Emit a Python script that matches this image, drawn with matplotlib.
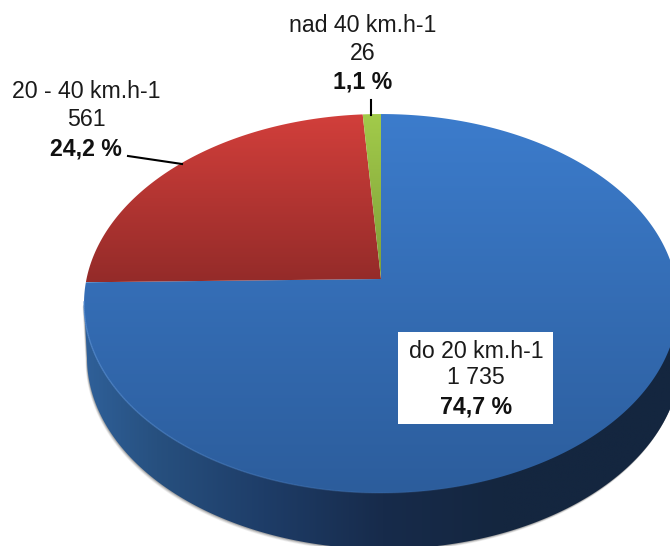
import numpy as np
import matplotlib
matplotlib.use("Agg")
import matplotlib.pyplot as plt
from matplotlib.colors import LinearSegmentedColormap as LSC
from matplotlib.collections import LineCollection
from matplotlib.patches import Polygon

categories = ["do 20 km.h-1", "20 - 40 km.h-1", "nad 40 km.h-1"]
counts = [1735, 561, 26]
count_labels = ["1 735", "561", "26"]
pct_labels = ["74,7 %", "24,2 %", "1,1 %"]

top_cols = [("#3C7CCC", "#2C5D9C"), ("#D23F3B", "#942B29"), ("#A2CB4A", "#7E9E39")]
side_stops = [(0.0, "#2F6099"), (0.12, "#27507F"), (0.3, "#1E3D68"), (0.5, "#172B4B"), (0.7, "#14263F"), (1.0, "#14263F")]

plt.rcParams["font.family"] = ["Liberation Sans", "DejaVu Sans"]
fig = plt.figure(figsize=(6.7, 5.46), dpi=100)
ax = fig.add_axes([0, 0, 1, 1])

CX, CY = 381.0, 279.0
A, B, K = 294.5, 186.3, 0.1293


def project(theta, dx=0.0, dy=0.0, sx=1.0, sy=1.0):
    """clockwise angle from 12 o'clock on the disc -> picture position (perspective)"""
    u, v = np.sin(theta), np.cos(theta)
    w = 1 + K * v
    return CX + dx + sx * A * u / w, CY + dy - sy * B * v / w


fractions = np.array(counts, float) / np.sum(counts)
edges = np.concatenate([[0], np.cumsum(fractions)]) * 2 * np.pi


def gradient(poly, cmap, horizontal=False, zorder=2):
    xy = poly.get_xy()
    x0, x1, y0, y1 = xy[:, 0].min(), xy[:, 0].max(), xy[:, 1].min(), xy[:, 1].max()
    g = np.linspace(0, 1, 256)
    g = g[None, :] if horizontal else g[:, None]
    im = ax.imshow(g, cmap=cmap, extent=(x0, x1, y1, y0), aspect="auto", origin="upper",
                   zorder=zorder, interpolation="bilinear", vmin=0, vmax=1)
    ax.add_patch(poly)
    im.set_clip_path(poly)


T = np.linspace(0, 2 * np.pi, 721)
tx, ty = project(T)
left_t = T[np.argmin(tx)]
right_t = T[np.argmax(tx)]

# outline of the body: the extruded lower rim
DX, DY, SX, SY = 3.0, 54.0, 1.0, 1.01
arc = np.linspace(left_t, right_t, 361)
bx, by = project(arc, DX, DY, SX, SY)
lx, ly = project(np.array([left_t]))
rx, ry = project(np.array([right_t]))
side_xy = np.vstack([[lx[0], ly[0]], np.column_stack([bx, by]), [rx[0], ry[0]]])

# soft shadow
for off, a in [(3.0, 0.10), (2.2, 0.14), (1.4, 0.20), (0.7, 0.25)]:
    ax.add_patch(Polygon(side_xy + [-off * 0.5, off * 0.9], closed=True, fc="#555555", ec="none", alpha=a, zorder=1))

side = Polygon(side_xy, closed=True, fc="none", ec="none", zorder=2)
gradient(side, LSC.from_list("side", side_stops), horizontal=True, zorder=2)

# top face slices
for i in range(len(counts)):
    t = np.linspace(edges[i], edges[i + 1], 400)
    x, y = project(t)
    xy = np.vstack([[CX, CY], np.column_stack([x, y])])
    poly = Polygon(xy, closed=True, fc="none", ec="none", zorder=3)
    gradient(poly, LSC.from_list(f"c{i}", top_cols[i]), zorder=3)

# highlight along the front rim, fading towards the right
t = np.linspace(edges[1] - 0.1, np.pi * 0.85, 200)
x, y = project(t)
pts = np.column_stack([x, y])
segs = np.stack([pts[:-1], pts[1:]], axis=1)
fade = np.linspace(0.8, 0.0, len(segs))
cols = np.tile(matplotlib.colors.to_rgba("#5A8FD2"), (len(segs), 1))
cols[:, 3] = fade
ax.add_collection(LineCollection(segs, colors=cols, linewidths=1.0, zorder=4))

# leader lines
ax.plot([371, 371], [100, 115], color="black", lw=1.5, zorder=5)
ax.plot([128, 182], [156, 164], color="black", lw=1.5, zorder=5)

# labels
FS = 16.7
positions = [(476, (351, 378, 407)), (86, (92, 120, 149)), (363, (25, 53, 82))]
ax.add_patch(plt.Rectangle((398, 332), 155, 92, fc="white", ec="none", zorder=5))
for cat, cnt, pct, (xc, ys) in zip(categories, count_labels, pct_labels, positions):
    ax.text(xc, ys[0], cat, ha="center", va="center", fontsize=FS, color="#1a1a1a", zorder=6)
    ax.text(xc, ys[1], cnt, ha="center", va="center", fontsize=FS, color="#1a1a1a", zorder=6)
    ax.text(xc, ys[2], pct, ha="center", va="center", fontsize=FS, fontweight="bold", color="#111111", zorder=6)

ax.set_xlim(0, 670)
ax.set_ylim(546, 0)
ax.axis("off")
fig.savefig("out.png", dpi=100, facecolor="white")
